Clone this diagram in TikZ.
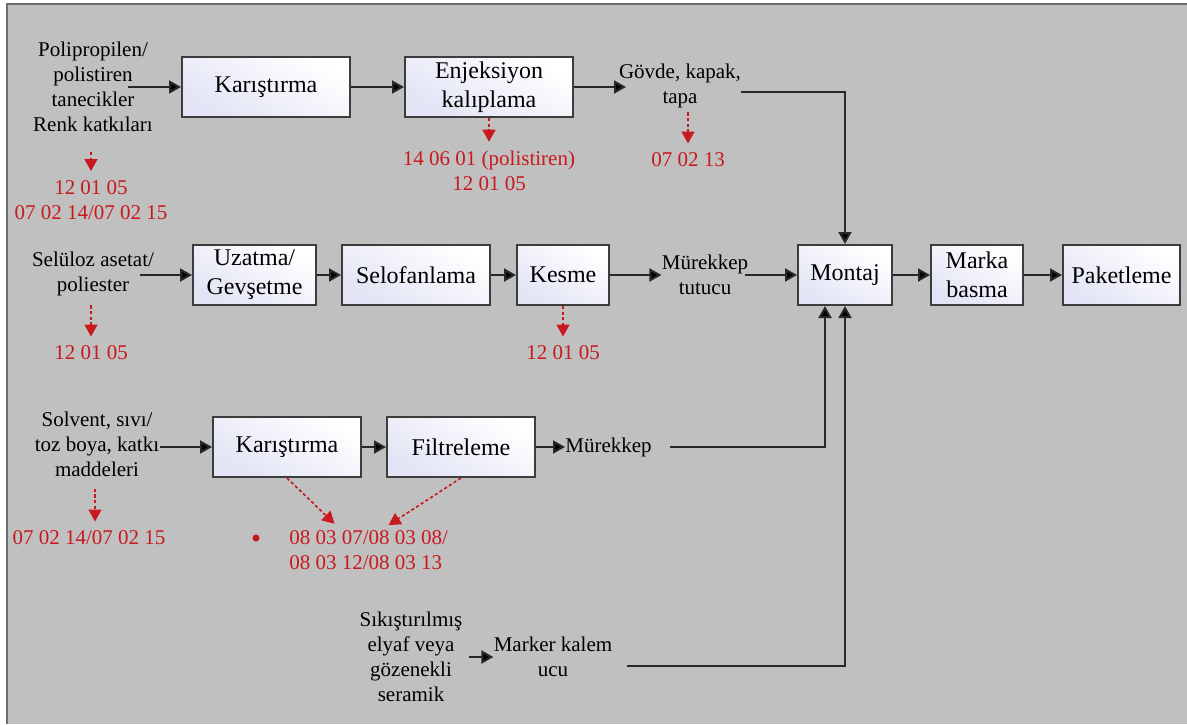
\documentclass[tikz,border=0pt]{standalone}
\usepackage{fontspec}
\setmainfont{Liberation Serif}
\usetikzlibrary{arrows.meta}

\definecolor{bggray}{RGB}{192,192,192}
\definecolor{framegray}{RGB}{110,110,110}
\definecolor{linegray}{RGB}{40,40,40}
\definecolor{boxline}{RGB}{60,60,60}
\definecolor{boxtint}{RGB}{226,228,245}
\definecolor{wastered}{RGB}{200,25,30}

\begin{document}
\begin{tikzpicture}[x=0.5pt, y=-0.5pt,
    box/.style={draw=boxline, line width=1pt, top color=white, bottom color=boxtint, shading angle=-30,
        minimum height=30pt, inner sep=0pt, align=center, font=\fontsize{12}{14.5}\selectfont},
    lbl/.style={inner sep=0pt, align=center, font=\fontsize{10.5}{12.5}\selectfont},
    waste/.style={lbl, text=wastered},
    flow/.style={draw=linegray, line width=1pt, -{Triangle[length=6pt, width=6.5pt, fill=black]}},
    wflow/.style={draw=wastered, line width=0.8pt, dash pattern=on 1.6pt off 1.2pt, shorten >=4.5pt,
        -{Triangle[length=6pt, width=6.5pt]}}]
    % Background
    \useasboundingbox (0,0) rectangle (1187,724);
    \fill[bggray] (7,4) rectangle (1187,724);
    \draw[framegray, line width=1pt] (7,724) -- (7,4) -- (1187,4);

    % Row 1: case parts
    \node[lbl] (granules) at (93,87) {Polipropilen/\\polistiren\\tanecikler\\Renk katkıları};
    \node[box, minimum width=84pt] (mixA) at (266,87) {Karıştırma};
    \node[box, minimum width=84pt] (inject) at (489,87) {Enjeksiyon\\kalıplama};
    \node[lbl] (parts) at (680,86) {Gövde, kapak,\\tapa};
    \node[waste] (wasteA) at (91,200) {12 01 05\\07 02 14/07 02 15};
    \node[waste] (wasteB) at (489,171) {14 06 01 (polistiren)\\12 01 05};
    \node[waste] (wasteC) at (688,160) {07 02 13};

    % Row 2: ink holder and assembly line
    \node[lbl] (acetate) at (93,274) {Selüloz asetat/\\poliester};
    \node[box, minimum width=61.5pt] (stretch) at (254.5,275) {Uzatma/\\Gevşetme};
    \node[box, minimum width=74pt] (cello) at (416,275) {Selofanlama};
    \node[box, minimum width=46pt] (cut) at (563,275) {Kesme};
    \node[lbl] (holder) at (705,275) {Mürekkep\\tutucu};
    \node[box, minimum width=47pt] (assembly) at (845,275) {Montaj};
    \node[box, minimum width=46pt] (brand) at (977,275) {Marka\\basma};
    \node[box, minimum width=58.5pt] (pack) at (1121.5,275) {Paketleme};
    \node[waste] (wasteD) at (91,353) {12 01 05};
    \node[waste] (wasteE) at (563,353) {12 01 05};

    % Row 3: ink
    \node[lbl] (solvent) at (97,444) {Solvent, sıvı/\\toz boya, katkı\\maddeleri};
    \node[box, minimum width=74pt] (mixB) at (287,447) {Karıştırma};
    \node[box, minimum width=74pt] (filter) at (461,447) {Filtreleme};
    \node[lbl, anchor=west] (ink) at (565,447) {Mürekkep};
    \node[waste] (wasteF) at (89,538) {07 02 14/07 02 15};
    \node[waste, align=left, anchor=west] (wasteG) at (289,550) {08 03 07/08 03 08/\\08 03 12/08 03 13};
    \node[circle, fill=wastered, inner sep=0pt, minimum size=3.5pt] (dot) at (256,538) {};

    % Row 4: marker tip
    \node[lbl] (fibre) at (411,657) {Sıkıştırılmış\\elyaf veya\\gözenekli\\seramik};
    \node[lbl] (nib) at (553,657) {Marker kalem\\ucu};

    % Material flow
    \coordinate (granulesOut) at (128,87);
    \coordinate (partsIn) at (626,87);
    \coordinate (partsOut) at (741,92);
    \draw[flow] (granulesOut) -- (mixA);
    \draw[flow] (mixA) -- (inject);
    \draw[flow] (inject) -- (partsIn);
    \draw[flow] (partsOut) -| (assembly);

    \coordinate (acetateOut) at (140,275);
    \coordinate (holderOut) at (745,275);
    \draw[flow] (acetateOut) -- (stretch);
    \draw[flow] (stretch) -- (cello);
    \draw[flow] (cello) -- (cut);
    \draw[flow] (cut) -- (holder);
    \draw[flow] (holderOut) -- (assembly);
    \draw[flow] (assembly) -- (brand);
    \draw[flow] (brand) -- (pack);

    \coordinate (inkOut) at (670,447);
    \draw[flow] (solvent.east |- mixB) -- (mixB);
    \draw[flow] (mixB) -- (filter);
    \draw[flow] (filter) -- (ink);
    \draw[flow] (inkOut) -| ([xshift=-10pt]assembly.south);

    \coordinate (nibOut) at (627,666);
    \draw[flow, shorten <=3pt] (fibre) -- (nib);
    \draw[flow] (nibOut) -| (assembly);

    % Waste codes
    \draw[wflow] ([xshift=-1pt, yshift=-10pt]granules.south) -- (wasteA.north);
    \draw[wflow] (inject.south) -- (wasteB.north);
    \draw[wflow] ([xshift=4pt, yshift=-2pt]parts.south) -- (wasteC.north);
    \draw[wflow] ([xshift=-1pt, yshift=-4.5pt]acetate.south) -- (wasteD.north);
    \draw[wflow] (cut.south) -- (wasteE.north);
    \draw[wflow] ([xshift=-1pt, yshift=-6pt]solvent.south) -- ([xshift=3pt]wasteF.north);
    \draw[wflow] (mixB.south) -- ([xshift=26pt]wasteG.north west);
    \draw[wflow] (filter.south) -- ([xshift=46pt]wasteG.north west);
\end{tikzpicture}
\end{document}
